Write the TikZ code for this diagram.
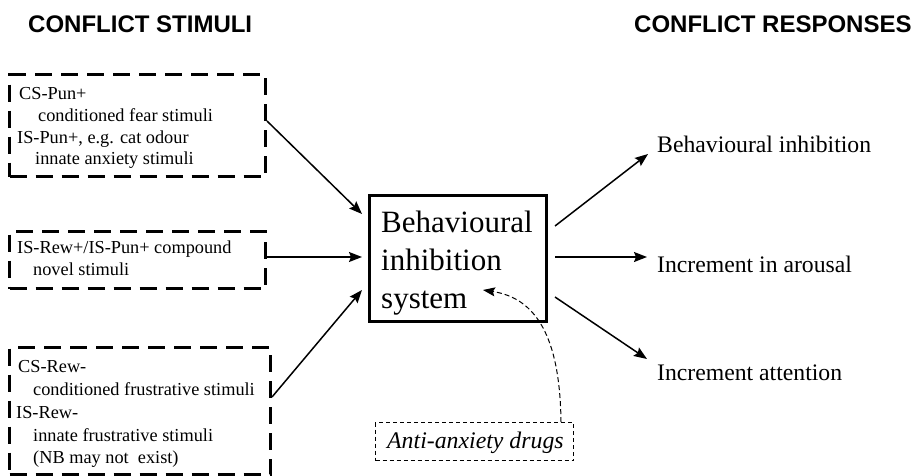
\documentclass[tikz,border=0pt]{standalone}
\usepackage{fontspec}
\setmainfont{Liberation Serif}
\newfontfamily\headfont{Liberation Sans}
\usetikzlibrary{arrows.meta}
\begin{document}
\begin{tikzpicture}[x=1pt,y=-1pt,
  heading/.style={anchor=base west,inner sep=0pt,font=\headfont\bfseries\fontsize{24}{28}\selectfont},
  stimbox/.style={draw,line width=3pt,dash pattern=on 17pt off 9pt,anchor=north west,inner sep=0pt},
  stimtext/.style={anchor=base west,inner sep=0pt,font=\fontsize{18.3}{22}\selectfont},
  resptext/.style={anchor=base west,inner sep=0pt,font=\fontsize{23.7}{28}\selectfont},
  bisbox/.style={draw,line width=3pt,anchor=north west,inner sep=0pt},
  bistext/.style={anchor=base west,inner sep=0pt,font=\fontsize{31}{36}\selectfont},
  drugbox/.style={draw,line width=1pt,dash pattern=on 4pt off 3pt,anchor=north west,inner sep=0pt},
  arr/.style={line width=1.5pt,-{Stealth[length=13pt,width=10pt,inset=2pt]}}]
\useasboundingbox (0,0) rectangle (921,475);

% column headings
\node[heading] (hstim) at (28,32) {CONFLICT STIMULI};
\node[heading] (hresp) at (634,32) {CONFLICT RESPONSES};

% stimulus boxes
\node[stimbox,minimum width=256pt,minimum height=102pt] (b1) at (8,73) {};
\node[stimtext] (t11) at (19,99) {CS-Pun+};
\node[stimtext] (t12) at (38,121) {conditioned fear stimuli};
\node[stimtext] (t13) at (17,143) {IS-Pun+, e.g. cat odour};
\node[stimtext] (t14) at (35,164) {innate anxiety stimuli};

\node[stimbox,minimum width=256pt,minimum height=57pt] (b2) at (8,230) {};
\node[stimtext] (t21) at (17,253) {IS-Rew+/IS-Pun+ compound};
\node[stimtext] (t22) at (33,275) {novel stimuli};

\node[stimbox,minimum width=261pt,minimum height=127pt] (b3) at (8,346) {};
\node[stimtext] (t31) at (18,372) {CS-Rew-};
\node[stimtext] (t32) at (33,395) {conditioned frustrative stimuli};
\node[stimtext] (t33) at (16,418) {IS-Rew-};
\node[stimtext] (t34) at (33,441) {innate frustrative stimuli};
\node[stimtext] (t35) at (33,463) {(NB may not\ \ exist)};

% central system
\node[bisbox,minimum width=177pt,minimum height=126pt] (bis) at (368,194) {};
\node[bistext] (bis1) at (381,232) {Behavioural};
\node[bistext] (bis2) at (381,270) {inhibition};
\node[bistext] (bis3) at (381,308) {system};

% drug box
\node[drugbox,minimum width=198pt,minimum height=38pt] (drug) at (375,422) {};
\node[anchor=base west,inner sep=0pt,font=\itshape\fontsize{23.8}{27}\selectfont] (drugt) at (387,448) {Anti-anxiety drugs};

% responses
\node[resptext] (r1) at (657,152) {Behavioural inhibition};
\node[resptext] (r2) at (657,272) {Increment in arousal};
\node[resptext] (r3) at (657,380) {Increment attention};

% inputs
\coordinate (i1) at (362,214);
\coordinate (i2) at (362,257);
\coordinate (i3) at (362,290);
\draw[arr] (b1.east |- 0,121) -- (i1);
\draw[arr] (b2.east |- 0,257) -- (i2);
\draw[arr] (b3.east |- 0,397) -- (i3);

% outputs
\coordinate (o1) at (555,226);
\coordinate (o2) at (555,257);
\coordinate (o3) at (555,297);
\coordinate (e1) at (648,154);
\coordinate (e2) at (647,257);
\coordinate (e3) at (647,359);
\draw[arr] (o1) -- (e1);
\draw[arr] (o2) -- (e2);
\draw[arr] (o3) -- (e3);

% drug effect
\coordinate (dstart) at (561,422);
\coordinate (dtip) at (483,290);
\draw[line width=1pt,dash pattern=on 5pt off 3pt,-{Stealth[length=12pt,width=9pt,inset=2pt]}]
  (dstart) .. controls (560,335) and (535,298) .. (dtip);
\end{tikzpicture}
\end{document}
